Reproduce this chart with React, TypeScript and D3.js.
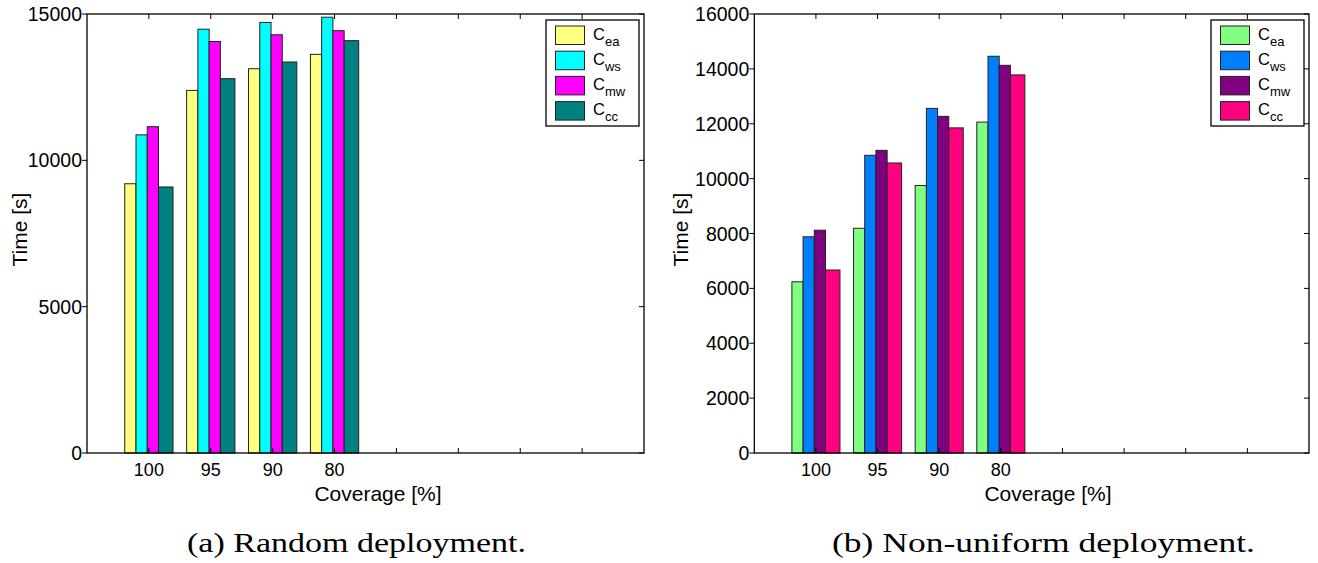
import React from "react";
import { scaleLinear, range } from "d3";

// coverage groups (last four groups are empty in the original figure)
const categories = ["100", "95", "90", "80", "", "", "", ""];
const seriesSubs = ["ea", "ws", "mw", "cc"];

// (a) random deployment
const randomEa = [9200, 12390, 13130, 13620, 0, 0, 0, 0];
const randomWs = [10870, 14480, 14710, 14890, 0, 0, 0, 0];
const randomMw = [11150, 14060, 14290, 14430, 0, 0, 0, 0];
const randomCc = [9090, 12790, 13360, 14090, 0, 0, 0, 0];
const randomTicks = [0, 5000, 10000, 15000];

// (b) non-uniform deployment
const nonUniEa = [6240, 8190, 9750, 12060, 0, 0, 0, 0];
const nonUniWs = [7880, 10850, 12560, 14460, 0, 0, 0, 0];
const nonUniMw = [8120, 11030, 12270, 14130, 0, 0, 0, 0];
const nonUniCc = [6670, 10570, 11850, 13780, 0, 0, 0, 0];
const nonUniTicks = [0, 2000, 4000, 6000, 8000, 10000, 12000, 14000, 16000];

const randomColors = ["#ffff80", "#00ffff", "#ff00ff", "#008080"];
const nonUniColors = ["#80ff80", "#0080ff", "#800080", "#ff0080"];

const FONT = "'Liberation Sans', Arial, Helvetica, sans-serif";
const SERIF = "'Liberation Serif', 'Times New Roman', serif";

// MATLAB draws the last bar of each group a bit wider
const barEdges = [0, 0.233, 0.466, 0.699, 1];

type PanelProps = {
  left: number;
  right: number;
  series: number[][];
  colors: string[];
  ticks: number[];
  yMax: number;
  xLabelX: number;
  yLabelX: number;
  caption: string;
  captionX: number;
  captionWidth: number;
};

const top = 14;
const bottom = 453;

const Panel = ({
  left, right, series, colors, ticks, yMax, xLabelX, yLabelX, caption, captionX, captionWidth
}: PanelProps) => {
  const x = scaleLinear().domain([0, categories.length + 1]).range([left, right]);
  const y = scaleLinear().domain([0, yMax]).range([bottom, top]);
  const step = x(1) - x(0);
  const gw = 0.78 * step;

  const legendX = right - 98;
  const legendY = 20;

  return (
    <g>
      {/* bars */}
      {categories.map((c, i) =>
        series.map((vals, s) => {
          const x0 = x(i + 1) - gw / 2 + barEdges[s] * gw;
          const x1 = x(i + 1) - gw / 2 + barEdges[s + 1] * gw;
          return (
            <rect
              key={`${i}-${s}`}
              x={x0}
              y={y(vals[i])}
              width={x1 - x0}
              height={bottom - y(vals[i])}
              fill={colors[s]}
              stroke="#222"
              strokeWidth={1}
            />
          );
        })
      )}

      {/* box */}
      <rect x={left} y={top} width={right - left} height={bottom - top} fill="none" stroke="#000" strokeWidth={1.3} />

      {/* x ticks, top and bottom, inward */}
      {range(1, categories.length + 1).map((k) => (
        <g key={k}>
          <line x1={x(k)} x2={x(k)} y1={top} y2={top + 5} stroke="#000" />
          <line x1={x(k)} x2={x(k)} y1={bottom} y2={bottom - 5} stroke="#000" />
        </g>
      ))}
      {categories.map((c, i) => (
        <text key={i} x={x(i + 1)} y={476} textAnchor="middle" fontFamily={FONT} fontSize={18}>
          {c}
        </text>
      ))}

      {/* y ticks */}
      {ticks.map((t) => (
        <g key={t}>
          <line x1={left - 5} x2={left} y1={y(t)} y2={y(t)} stroke="#000" />
          <line x1={right - 5} x2={right} y1={y(t)} y2={y(t)} stroke="#000" />
          <text x={left - 5} y={y(t) + 7} textAnchor="end" fontFamily={FONT} fontSize={19.5}>
            {t}
          </text>
        </g>
      ))}

      {/* axis labels */}
      <text x={xLabelX} y={501} textAnchor="middle" fontFamily={FONT} fontSize={21}>
        Coverage [%]
      </text>
      <text
        transform={`translate(${yLabelX},${(top + bottom) / 2 - 4}) rotate(-90)`}
        textAnchor="middle"
        fontFamily={FONT}
        fontSize={21}
      >
        Time [s]
      </text>

      {/* legend */}
      <rect x={legendX} y={legendY} width={93} height={106} fill="#fff" stroke="#000" strokeWidth={1.3} />
      {seriesSubs.map((sub, s) => (
        <g key={sub}>
          <rect
            x={legendX + 9.5}
            y={legendY + 6 + s * 25.2}
            width={29}
            height={18.5}
            fill={colors[s]}
            stroke="#222"
          />
          <text x={legendX + 47} y={legendY + 19.5 + s * 25.2} fontFamily={FONT} fontSize={16.5}>
            C
            <tspan dy={6} fontSize={13}>
              {sub}
            </tspan>
          </text>
        </g>
      ))}

      {/* caption */}
      <text
        x={captionX}
        y={552}
        textAnchor="middle"
        fontFamily={SERIF}
        fontSize={28}
        textLength={captionWidth}
        lengthAdjust="spacingAndGlyphs"
      >
        {caption}
      </text>
    </g>
  );
};

export default function App() {
  return (
    <svg
      width={1318}
      height={563}
      style={{ position: "absolute", left: 0, top: 0, background: "#fff" }}
    >
      <Panel
        left={87}
        right={644}
        series={[randomEa, randomWs, randomMw, randomCc]}
        colors={randomColors}
        ticks={randomTicks}
        yMax={15000}
        xLabelX={378}
        yLabelX={27}
        caption="(a) Random deployment."
        captionX={356.5}
        captionWidth={339}
      />
      <Panel
        left={754.3}
        right={1309}
        series={[nonUniEa, nonUniWs, nonUniMw, nonUniCc]}
        colors={nonUniColors}
        ticks={nonUniTicks}
        yMax={16000}
        xLabelX={1048}
        yLabelX={688}
        caption="(b) Non-uniform deployment."
        captionX={1043.5}
        captionWidth={423}
      />
    </svg>
  );
}
